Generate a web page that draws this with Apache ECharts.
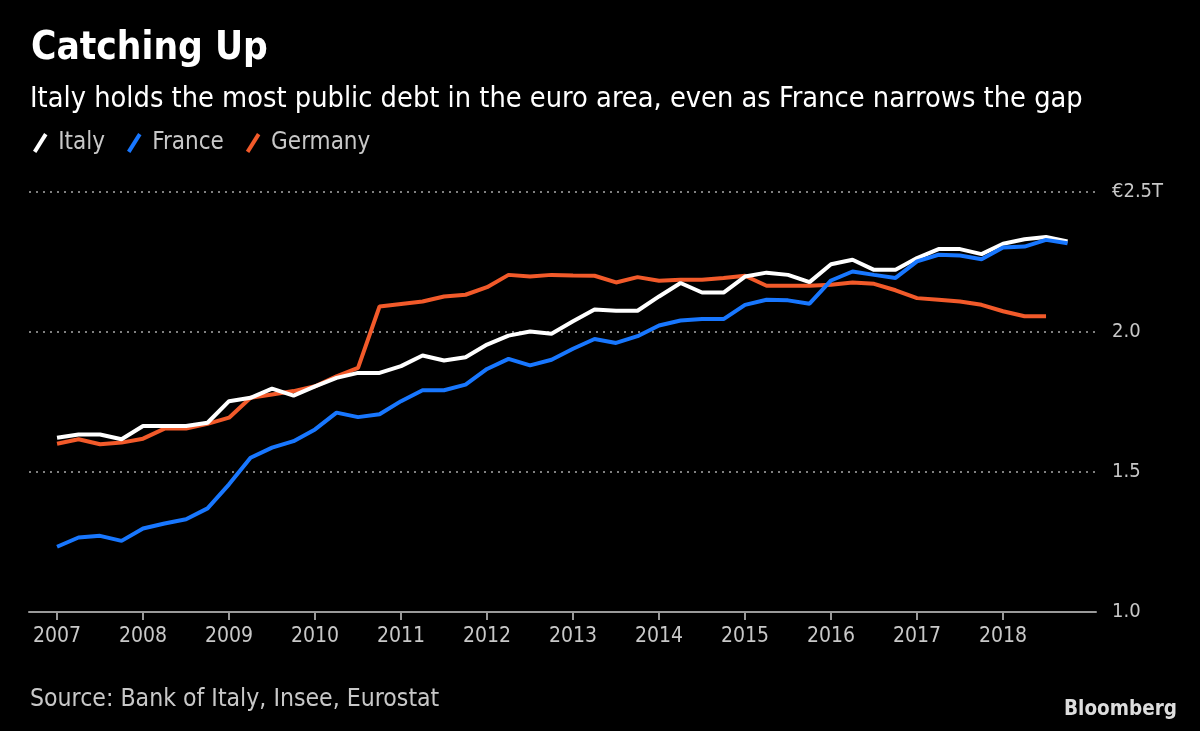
<!DOCTYPE html>
<html>
<head>
<meta charset="utf-8">
<script src="https://cdn.jsdelivr.net/npm/echarts@6/dist/echarts.min.js"></script>
<style>
html,body{margin:0;padding:0;background:#000;}
#c{width:1200px;height:731px;}
</style>
</head>
<body>
<div id="c"></div>
<script>
// Quarterly, 2007 Q1 onward (trillions of euros)
const startYear = 2007;
const yearTicks = [2007,2008,2009,2010,2011,2012,2013,2014,2015,2016,2017,2018];
const yTicks = [1.0, 1.5, 2.0, 2.5];
const italy = [
  1.622,1.634,1.634,1.617,1.664,1.664,1.664,1.676,
  1.753,1.765,1.798,1.773,1.806,1.836,1.854,1.854,
  1.878,1.916,1.898,1.910,1.955,1.987,2.002,1.994,
  2.038,2.080,2.076,2.076,2.127,2.175,2.141,2.141,
  2.198,2.212,2.204,2.178,2.242,2.258,2.222,2.222,
  2.264,2.296,2.296,2.278,2.315,2.331,2.339,2.323
];
const france = [
  1.233,1.266,1.272,1.254,1.298,1.316,1.331,1.370,
  1.456,1.551,1.587,1.610,1.652,1.712,1.696,1.706,
  1.753,1.792,1.792,1.812,1.868,1.904,1.881,1.901,
  1.940,1.975,1.961,1.985,2.023,2.041,2.046,2.046,
  2.097,2.115,2.113,2.101,2.184,2.216,2.204,2.193,
  2.252,2.276,2.273,2.260,2.302,2.305,2.329,2.317
];
const germany = [
  1.601,1.617,1.599,1.605,1.619,1.655,1.655,1.672,
  1.694,1.765,1.777,1.789,1.806,1.842,1.872,2.091,
  2.100,2.109,2.127,2.133,2.160,2.204,2.198,2.204,
  2.202,2.201,2.177,2.196,2.183,2.187,2.187,2.193,
  2.201,2.165,2.165,2.165,2.169,2.177,2.172,2.149,
  2.121,2.115,2.109,2.097,2.074,2.056,2.056
];

function toPairs(arr){ return arr.map((v,i)=>[startYear + i/4, v]); }

const FONT = '"DejaVu Sans Condensed", "DejaVu Sans", sans-serif';
const slash = 'path://M10,0 L13,2 L3,18 L0,16 Z';

const chart = echarts.init(document.getElementById('c'), null, {renderer:'canvas'});
chart.setOption({
  backgroundColor:'#000000',
  animation:false,
  title:[
    {text:'Catching Up', left:26, top:24, textStyle:{color:'#ffffff', fontFamily:FONT, fontWeight:'bold', fontSize:38.5}},
    {text:'Italy holds the most public debt in the euro area, even as France narrows the gap', left:25, top:80, textStyle:{color:'#ffffff', fontFamily:FONT, fontWeight:'normal', fontSize:28.7}},
    {text:'Source: Bank of Italy, Insee, Eurostat', left:25, top:682, textStyle:{color:'#c8c8c8', fontFamily:FONT, fontWeight:'normal', fontSize:24.6}},
    {text:'Bloomberg', right:18, top:694, textStyle:{color:'#dddddd', fontFamily:FONT, fontWeight:'bold', fontSize:20.5}}
  ],
  legend:{
    left:28, top:126, itemGap:22, itemWidth:16, itemHeight:20,
    icon: slash,
    textStyle:{color:'#c8c8c8', fontFamily:FONT, fontSize:24, padding:[0,0,0,5]},
    data:['Italy','France','Germany']
  },
  grid:{left:29, right:104, top:192, bottom:119, containLabel:false},
  xAxis:{
    type:'value',
    min: 2006.674, max: 2019.081,
    axisLine:{show:true, lineStyle:{color:'#9a9a9a', width:2}},
    axisTick:{show:true, length:8, lineStyle:{color:'#9a9a9a', width:2}, customValues: yearTicks},
    axisLabel:{show:true, color:'#c8c8c8', fontFamily:FONT, fontSize:21, margin:14, customValues: yearTicks, formatter: v => String(Math.round(v))},
    splitLine:{show:false}
  },
  yAxis:{
    type:'value', position:'right',
    min:1.0, max:2.5, interval:0.5,
    axisLine:{show:false}, axisTick:{show:false},
    axisLabel:{color:'#c8c8c8', fontFamily:FONT, fontSize:20, margin:16, align:'left',
      formatter: v => (Math.abs(v-2.5)<1e-9 ? '€2.5T' : v.toFixed(1))},
    splitLine:{show:true, showMinLine:false, lineStyle:{color:'#808080', width:2, type:[2,5]}}
  },
  series:[
    {name:'Italy', type:'line', data:toPairs(italy), showSymbol:false, symbol:'none', lineStyle:{color:'#ffffff', width:4}, itemStyle:{color:'#ffffff'}, z:3},
    {name:'France', type:'line', data:toPairs(france), showSymbol:false, symbol:'none', lineStyle:{color:'#1877ff', width:4}, itemStyle:{color:'#1877ff'}, z:4},
    {name:'Germany', type:'line', data:toPairs(germany), showSymbol:false, symbol:'none', lineStyle:{color:'#f25a2a', width:4}, itemStyle:{color:'#f25a2a'}, z:2}
  ]
});
</script>
</body>
</html>
